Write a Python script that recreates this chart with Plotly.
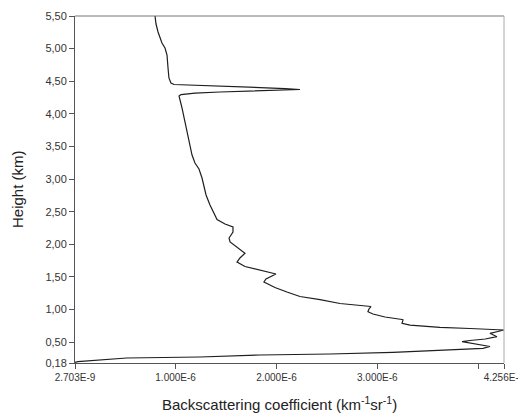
import plotly.graph_objects as go

# Height (km), ascending
height_km = [0.19, 0.20, 0.257, 0.272, 0.303, 0.318, 0.344, 0.369, 0.395, 0.405, 0.433, 0.448,
             0.482, 0.507, 0.525, 0.548, 0.583, 0.617, 0.635, 0.663, 0.686, 0.709, 0.727, 0.76,
             0.789, 0.84, 0.847, 0.885, 0.931, 0.966, 1.008, 1.046, 1.092, 1.153, 1.2, 1.268,
             1.337, 1.422, 1.468, 1.544, 1.567, 1.621, 1.659, 1.728, 1.79, 1.862, 1.943, 2.035,
             2.096, 2.188, 2.265, 2.311, 2.38, 2.495, 2.602, 2.756, 2.894, 3.016, 3.154, 3.246,
             3.369, 3.522, 3.752, 3.936, 4.089, 4.212, 4.273, 4.296, 4.319, 4.335, 4.35, 4.361,
             4.373, 4.388, 4.404, 4.419, 4.434, 4.45, 4.473, 4.55, 4.703, 4.902, 5.01, 5.086,
             5.255, 5.377, 5.50]
# Backscattering coefficient (units of 1e-6 km^-1 sr^-1)
beta_e6 = [0.003, 0.03, 0.515, 1.242, 1.837, 2.53, 3.155, 3.552, 3.919, 4.048, 4.117, 4.058,
           3.948, 3.84, 3.919, 4.07, 4.186, 4.137, 4.117, 4.196, 4.256, 3.919, 3.62, 3.324,
           3.245, 3.255, 3.245, 3.076, 2.957, 2.907, 2.917, 2.937, 2.63, 2.432, 2.233, 2.104,
           1.985, 1.876, 1.896, 1.995, 1.936, 1.787, 1.688, 1.609, 1.638, 1.688, 1.619, 1.54,
           1.53, 1.569, 1.569, 1.49, 1.411, 1.371, 1.341, 1.302, 1.282, 1.262, 1.232, 1.192,
           1.163, 1.143, 1.113, 1.084, 1.064, 1.044, 1.034, 1.054, 1.192, 1.44, 1.737, 2.035,
           2.233, 2.085, 1.837, 1.54, 1.242, 0.984, 0.954, 0.934, 0.925, 0.915, 0.895, 0.865,
           0.826, 0.806, 0.796]
beta = [v * 1e-6 for v in beta_e6]

x_tickvals = [2.703e-9, 1e-6, 2e-6, 3e-6, 4.256e-6]
x_ticktext = ["2.703E-9", "1.000E-6", "2.000E-6", "3.000E-6", "4.256E-6"]
x_unlabelled_ticks = [4e-6]
y_tickvals = [0.18, 0.5, 1.0, 1.5, 2.0, 2.5, 3.0, 3.5, 4.0, 4.5, 5.0, 5.5]
y_ticktext = ["0,18", "0,50", "1,00", "1,50", "2,00", "2,50", "3,00", "3,50", "4,00", "4,50", "5,00", "5,50"]

fig = go.Figure()
fig.add_trace(go.Scatter(x=beta, y=height_km, mode="lines",
                         line=dict(color="#1e1e1e", width=1.2), showlegend=False))

font_family = "Liberation Sans, Arial, sans-serif"
fig.update_layout(
    width=526, height=414,
    margin=dict(l=67, r=30, t=8, b=59),
    paper_bgcolor="white", plot_bgcolor="white",
    font=dict(family=font_family, color="#333333"),
    xaxis=dict(range=[2.703e-9, 4.256e-6], tickmode="array", tickvals=x_tickvals, ticktext=x_ticktext,
               showgrid=False, zeroline=False, showline=True, linecolor="#555555", linewidth=1,
               ticks="outside", ticklen=5, tickcolor="#555555",
               minor=dict(tickmode="array", tickvals=x_unlabelled_ticks, ticks="outside",
                          ticklen=5, tickcolor="#555555", showgrid=False),
               tickfont=dict(size=10, color="#333333"), automargin=False),
    yaxis=dict(range=[0.18, 5.5], tickmode="array", tickvals=y_tickvals, ticktext=y_ticktext,
               showgrid=False, zeroline=False, showline=True, linecolor="#555555", linewidth=1,
               ticks="outside", ticklen=5, tickcolor="#555555",
               tickfont=dict(size=11, color="#333333"), automargin=False),
    shapes=[
        dict(type="line", xref="paper", yref="paper", x0=0, x1=1, y0=1, y1=1,
             line=dict(color="#777777", width=1)),
        dict(type="line", xref="paper", yref="paper", x0=1, x1=1, y0=0, y1=1,
             line=dict(color="#aaaaaa", width=1)),
    ],
    annotations=[
        dict(text="Backscattering coefficient (km<sup>-1</sup>sr<sup>-1</sup>)",
             xref="paper", yref="paper", x=0.476, y=-0.085, xanchor="center", yanchor="top",
             showarrow=False, font=dict(size=15, color="#222222", family=font_family)),
        dict(text="Height (km)", xref="paper", yref="paper", x=-0.134, y=0.5,
             xanchor="center", yanchor="middle", textangle=-90,
             showarrow=False, font=dict(size=15, color="#222222", family=font_family)),
    ],
)

fig.write_html("out.html")
